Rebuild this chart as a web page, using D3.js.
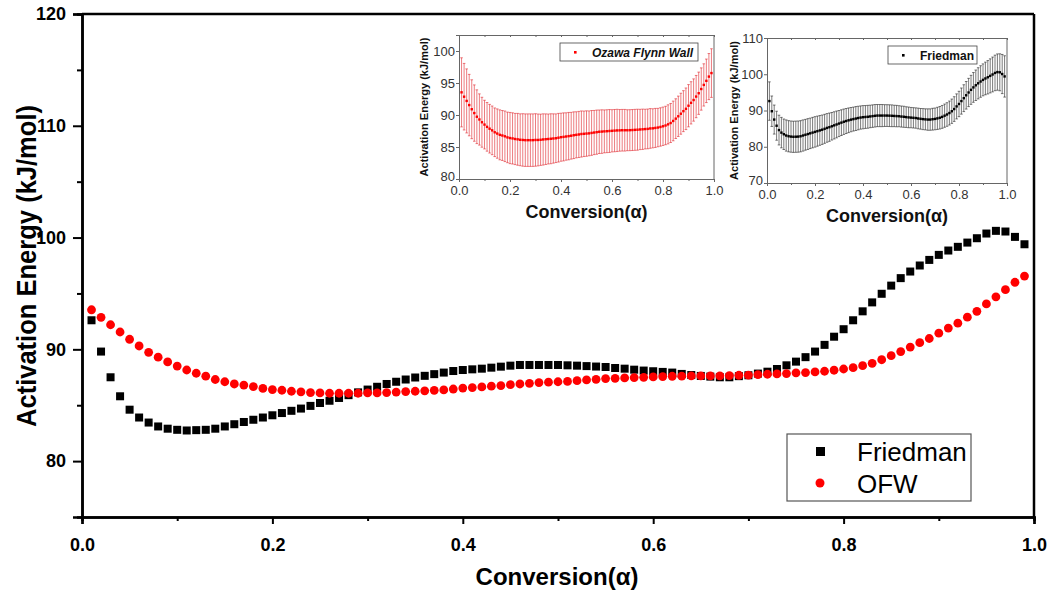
<!DOCTYPE html>
<html>
<head>
<meta charset="utf-8">
<script src="https://cdn.jsdelivr.net/npm/d3@7"></script>
<style>
body { margin: 0; background: #fff; }
text { font-family: "Liberation Sans", Arial, sans-serif; }
</style>
</head>
<body>
<div id="chart"></div>
<script>
// conversion values (alpha)
var conversion = [0.01,0.02,0.03,0.04,0.05,0.06,0.07,0.08,0.09,0.10,
	0.11,0.12,0.13,0.14,0.15,0.16,0.17,0.18,0.19,0.20,
	0.21,0.22,0.23,0.24,0.25,0.26,0.27,0.28,0.29,0.30,
	0.31,0.32,0.33,0.34,0.35,0.36,0.37,0.38,0.39,0.40,
	0.41,0.42,0.43,0.44,0.45,0.46,0.47,0.48,0.49,0.50,
	0.51,0.52,0.53,0.54,0.55,0.56,0.57,0.58,0.59,0.60,
	0.61,0.62,0.63,0.64,0.65,0.66,0.67,0.68,0.69,0.70,
	0.71,0.72,0.73,0.74,0.75,0.76,0.77,0.78,0.79,0.80,
	0.81,0.82,0.83,0.84,0.85,0.86,0.87,0.88,0.89,0.90,
	0.91,0.92,0.93,0.94,0.95,0.96,0.97,0.98,0.99];

var friedman = [92.6,89.8,87.5,85.8,84.6,83.9,83.45,83.1,82.9,82.8,
	82.74,82.77,82.8,82.9,83.1,83.3,83.5,83.7,83.9,84.1,
	84.3,84.5,84.7,84.94,85.2,85.4,85.65,85.9,86.15,86.4,
	86.65,86.9,87.1,87.3,87.48,87.63,87.78,87.92,88.06,88.15,
	88.21,88.27,88.36,88.45,88.54,88.6,88.6,88.6,88.6,88.6,
	88.57,88.54,88.5,88.46,88.42,88.33,88.27,88.18,88.1,88.04,
	87.98,87.92,87.8,87.7,87.62,87.56,87.5,87.5,87.6,87.68,
	87.83,88.0,88.24,88.57,88.9,89.3,89.8,90.4,91.13,91.8,
	92.6,93.4,94.2,94.97,95.7,96.37,96.96,97.5,98.0,98.45,
	98.84,99.17,99.55,99.94,100.36,100.6,100.54,100.06,99.4];

var ofw = [93.54,92.86,92.2,91.55,90.9,90.3,89.73,89.3,88.87,88.5,
	88.15,87.86,87.6,87.3,87.1,86.9,86.8,86.67,86.5,86.4,
	86.34,86.25,86.2,86.13,86.1,86.07,86.07,86.07,86.07,86.1,
	86.1,86.13,86.18,86.22,86.25,86.29,86.33,86.37,86.45,86.53,
	86.58,86.64,86.7,86.76,86.84,86.9,86.96,87.03,87.06,87.1,
	87.13,87.2,87.26,87.32,87.38,87.41,87.44,87.47,87.5,87.53,
	87.56,87.59,87.6,87.62,87.62,87.62,87.63,87.65,87.68,87.7,
	87.74,87.77,87.8,87.83,87.9,87.92,87.98,88.04,88.13,88.24,
	88.36,88.54,88.75,89.07,89.43,89.8,90.2,90.6,90.97,91.45,
	91.9,92.34,92.88,93.4,94.06,94.7,95.34,96.0,96.55];

// half widths of the error bars shown in the insets
var friedmanErr = [5.3,4.2,4.0,4.0,4.1,4.2,4.2,4.3,4.3,4.3,
	4.3,4.3,4.3,4.3,4.3,4.25,4.25,4.2,4.2,4.2,
	4.15,4.1,4.05,4.0,3.95,3.9,3.8,3.75,3.7,3.6,
	3.55,3.5,3.45,3.4,3.35,3.3,3.3,3.25,3.2,3.2,
	3.15,3.15,3.1,3.1,3.1,3.05,3.05,3.05,3.0,3.0,
	3.0,3.0,2.95,2.95,2.9,2.9,2.9,2.85,2.85,2.8,
	2.8,2.8,2.85,2.85,2.9,2.9,2.95,2.95,3.0,3.0,
	3.05,3.1,3.15,3.2,3.25,3.3,3.35,3.4,3.45,3.5,
	3.6,3.7,3.8,3.9,4.0,4.1,4.2,4.3,4.35,4.4,
	4.5,4.6,4.7,4.8,4.9,5.0,5.1,5.4,5.7];

var ofwErr = [5.4,5.2,5.0,4.8,4.6,4.4,4.2,4.0,3.9,3.8,
	3.8,3.8,3.8,3.8,3.85,3.9,3.9,3.95,3.95,4.0,
	4.0,4.0,4.05,4.05,4.1,4.1,4.1,4.1,4.1,4.1,
	4.05,4.0,4.0,3.95,3.9,3.9,3.85,3.8,3.8,3.75,
	3.75,3.7,3.7,3.65,3.65,3.6,3.6,3.6,3.55,3.55,
	3.5,3.5,3.45,3.45,3.4,3.4,3.35,3.35,3.35,3.3,
	3.3,3.3,3.25,3.25,3.25,3.2,3.2,3.2,3.2,3.2,
	3.15,3.15,3.1,3.1,3.1,3.05,3.05,3.0,3.0,3.0,
	3.0,3.05,3.05,3.1,3.1,3.15,3.2,3.2,3.25,3.3,
	3.3,3.3,3.3,3.3,3.3,3.3,3.4,3.6,3.8];

var xTicks = [0, 0.2, 0.4, 0.6, 0.8, 1.0];
var xMinor = [0.1, 0.3, 0.5, 0.7, 0.9];
var yTicks = [80, 90, 100, 110, 120];
var yMinor = [85, 95, 105, 115];
var inset1YTicks = [80, 85, 90, 95, 100];
var inset2YTicks = [70, 80, 90, 100, 110];

var w = 1051;
var h = 592;

var rows = conversion.map(function(c, i) {
	return { x: c, fr: friedman[i], ofw: ofw[i], frErr: friedmanErr[i], ofwErr: ofwErr[i] };
});

var svg = d3.select("#chart")
	.append("svg")
	.attr("width", w)
	.attr("height", h);

// ---------- main plot ----------
var xScale = d3.scaleLinear().domain([0, 1]).range([82, 1034]);
var yScale = d3.scaleLinear().domain([75, 120]).range([517, 14]);

var narrow = "'Liberation Sans Narrow', 'Arial Narrow', 'Liberation Sans', sans-serif";

var xAxis = svg.append("g")
	.attr("transform", "translate(0,517)")
	.call(d3.axisBottom(xScale).tickValues(xTicks).tickSize(7).tickPadding(14).tickFormat(d3.format(".1f")));
svg.append("g")
	.attr("transform", "translate(0,517)")
	.call(d3.axisBottom(xScale).tickValues(xMinor).tickSize(4).tickFormat(""));

var yAxis = svg.append("g")
	.attr("transform", "translate(82,0)")
	.call(d3.axisLeft(yScale).tickValues(yTicks).tickSize(9).tickPadding(7));
svg.append("g")
	.attr("transform", "translate(82,0)")
	.call(d3.axisLeft(yScale).tickValues(yMinor).tickSize(5).tickFormat(""));

svg.selectAll(".domain").attr("stroke", "#000").attr("stroke-width", 2.5);
svg.selectAll(".tick line").attr("stroke", "#000").attr("stroke-width", 2);

xAxis.selectAll("text")
	.style("font-family", narrow)
	.style("font-weight", "bold")
	.style("font-size", "18px")
	.attr("fill", "#000");
yAxis.selectAll("text")
	.style("font-weight", "bold")
	.style("font-size", "18px")
	.attr("fill", "#000");

// top + right frame
svg.append("line")
	.attr("x1", xScale(0)).attr("x2", xScale(1))
	.attr("y1", yScale(120)).attr("y2", yScale(120))
	.attr("stroke", "#000").attr("stroke-width", 2.5);
svg.append("line")
	.attr("x1", xScale(1)).attr("x2", xScale(1))
	.attr("y1", yScale(120)).attr("y2", yScale(75))
	.attr("stroke", "#000").attr("stroke-width", 2.5);

svg.append("text")
	.attr("x", 557)
	.attr("y", 585)
	.attr("text-anchor", "middle")
	.style("font-family", narrow)
	.style("font-weight", "bold")
	.style("font-size", "24px")
	.text("Conversion(α)");

svg.append("text")
	.attr("transform", "translate(36,266) rotate(-90)")
	.attr("text-anchor", "middle")
	.attr("textLength", 322)
	.attr("lengthAdjust", "spacingAndGlyphs")
	.style("font-family", narrow)
	.style("font-weight", "bold")
	.style("font-size", "28px")
	.text("Activation Energy (kJ/mol)");

// Friedman squares
svg.selectAll("rect.fr")
	.data(rows)
	.enter()
	.append("rect")
	.attr("class", "fr")
	.attr("x", function(d) { return xScale(d.x) - 4; })
	.attr("y", function(d) { return yScale(d.fr) - 4; })
	.attr("width", 8)
	.attr("height", 8)
	.attr("fill", "#000");

// OFW circles
svg.selectAll("circle.ofw")
	.data(rows)
	.enter()
	.append("circle")
	.attr("class", "ofw")
	.attr("cx", function(d) { return xScale(d.x); })
	.attr("cy", function(d) { return yScale(d.ofw); })
	.attr("r", 4.4)
	.attr("fill", "#ff0000");

// main legend
var legend = svg.append("g");
legend.append("rect")
	.attr("x", 787).attr("y", 434)
	.attr("width", 184).attr("height", 67)
	.attr("fill", "#fff")
	.attr("stroke", "#555")
	.attr("stroke-width", 1.2);
legend.append("rect")
	.attr("x", 816).attr("y", 447)
	.attr("width", 9).attr("height", 9)
	.attr("fill", "#000");
legend.append("circle")
	.attr("cx", 820).attr("cy", 483)
	.attr("r", 4.5)
	.attr("fill", "#ff0000");
legend.append("text")
	.attr("x", 857).attr("y", 461)
	.style("font-size", "26px")
	.text("Friedman");
legend.append("text")
	.attr("x", 857).attr("y", 493)
	.style("font-size", "26px")
	.text("OFW");

// ---------- insets ----------
function drawInset(opt) {
	var g = svg.append("g");
	var ix = d3.scaleLinear().domain([0, 1]).range(opt.xr);
	var iy = d3.scaleLinear().domain(opt.yd).range(opt.yr);

	// error bars
	var bars = g.append("g")
		.attr("stroke", opt.barColor)
		.attr("stroke-opacity", opt.barOpacity)
		.attr("stroke-width", 1);
	bars.selectAll("line.v")
		.data(rows)
		.enter()
		.append("line")
		.attr("x1", function(d) { return ix(d.x); })
		.attr("x2", function(d) { return ix(d.x); })
		.attr("y1", function(d) { return iy(opt.val(d) - opt.err(d)); })
		.attr("y2", function(d) { return iy(opt.val(d) + opt.err(d)); });
	["lo", "hi"].forEach(function(s) {
		bars.selectAll("line.c" + s)
			.data(rows)
			.enter()
			.append("line")
			.attr("x1", function(d) { return ix(d.x) - 1.3; })
			.attr("x2", function(d) { return ix(d.x) + 1.3; })
			.attr("y1", function(d) { return iy(s == "lo" ? opt.val(d) - opt.err(d) : opt.val(d) + opt.err(d)); })
			.attr("y2", function(d) { return iy(s == "lo" ? opt.val(d) - opt.err(d) : opt.val(d) + opt.err(d)); });
	});

	// means
	g.selectAll("rect.m")
		.data(rows)
		.enter()
		.append("rect")
		.attr("x", function(d) { return ix(d.x) - 1.2; })
		.attr("y", function(d) { return iy(opt.val(d)) - 1.2; })
		.attr("width", 2.4)
		.attr("height", 2.4)
		.attr("fill", opt.dotColor);

	// axes
	g.append("g")
		.attr("transform", "translate(0," + opt.yr[0] + ")")
		.call(d3.axisBottom(ix).tickValues(xTicks).tickSize(3).tickPadding(4).tickFormat(d3.format(".1f")));
	g.append("g")
		.attr("transform", "translate(0," + opt.yr[0] + ")")
		.call(d3.axisBottom(ix).tickValues(xMinor).tickSize(2).tickFormat(""));
	var ya = g.append("g")
		.attr("transform", "translate(" + opt.xr[0] + ",0)")
		.call(d3.axisLeft(iy).tickValues(opt.yTicks).tickSize(3).tickPadding(1));
	g.append("g")
		.attr("transform", "translate(0," + opt.yr[1] + ")")
		.call(d3.axisBottom(ix).tickValues(xTicks.concat(xMinor)).tickSize(2).tickFormat(""));
	g.selectAll(".domain").attr("stroke", "#666").attr("stroke-width", 1);
	g.selectAll(".tick line").attr("stroke", "#666");
	g.append("line")
		.attr("x1", opt.xr[1]).attr("x2", opt.xr[1])
		.attr("y1", opt.yr[0]).attr("y2", opt.yr[1])
		.attr("stroke", "#666");
	g.selectAll(".tick text")
		.attr("fill", "#333")
		.style("font-size", opt.tickFont);
	// lowest y label sits a little higher so it clears the x labels
	ya.selectAll(".tick text")
		.filter(function(d) { return d == opt.yd[0] || d == opt.yTicks[0]; })
		.attr("dy", "0.1em");

	g.append("text")
		.attr("x", (opt.xr[0] + opt.xr[1]) / 2)
		.attr("y", opt.yr[0] + 39)
		.attr("text-anchor", "middle")
		.style("font-weight", "bold")
		.style("font-size", "18px")
		.attr("fill", "#111")
		.text("Conversion(α)");
	g.append("text")
		.attr("transform", "translate(" + opt.ylabX + "," + ((opt.yr[0] + opt.yr[1]) / 2) + ") rotate(-90)")
		.attr("text-anchor", "middle")
		.style("font-weight", "bold")
		.style("font-size", "11px")
		.attr("fill", "#111")
		.text("Activation Energy (kJ/mol)");

	// legend
	g.append("rect")
		.attr("x", opt.leg[0]).attr("y", opt.leg[1])
		.attr("width", opt.leg[2]).attr("height", 18)
		.attr("fill", "#fff")
		.attr("stroke", "#444")
		.attr("stroke-width", 0.8);
	g.append("rect")
		.attr("x", opt.leg[0] + 14).attr("y", opt.leg[1] + 8)
		.attr("width", 2.6).attr("height", 2.6)
		.attr("fill", opt.dotColor);
	g.append("text")
		.attr("x", opt.leg[0] + 32).attr("y", opt.leg[1] + 13.5)
		.style("font-weight", "bold")
		.style("font-style", opt.legItalic ? "italic" : "normal")
		.style("font-size", "12px")
		.attr("fill", "#111")
		.text(opt.name);
}

drawInset({
	xr: [459, 714], yr: [179, 35], yd: [80, 102.5],
	yTicks: inset1YTicks, tickFont: "13px",
	val: function(d) { return d.ofw; }, err: function(d) { return d.ofwErr; },
	barColor: "#e0252c", barOpacity: 0.6, dotColor: "#ff0000",
	ylabX: 428, leg: [560, 43, 138], name: "Ozawa Flynn Wall", legItalic: true
});

drawInset({
	xr: [767, 1007], yr: [183, 38], yd: [70, 110],
	yTicks: inset2YTicks, tickFont: "13px",
	val: function(d) { return d.fr; }, err: function(d) { return d.frErr; },
	barColor: "#222", barOpacity: 0.6, dotColor: "#000",
	ylabX: 738, leg: [888, 46, 89], name: "Friedman", legItalic: false
});
</script>
</body>
</html>
